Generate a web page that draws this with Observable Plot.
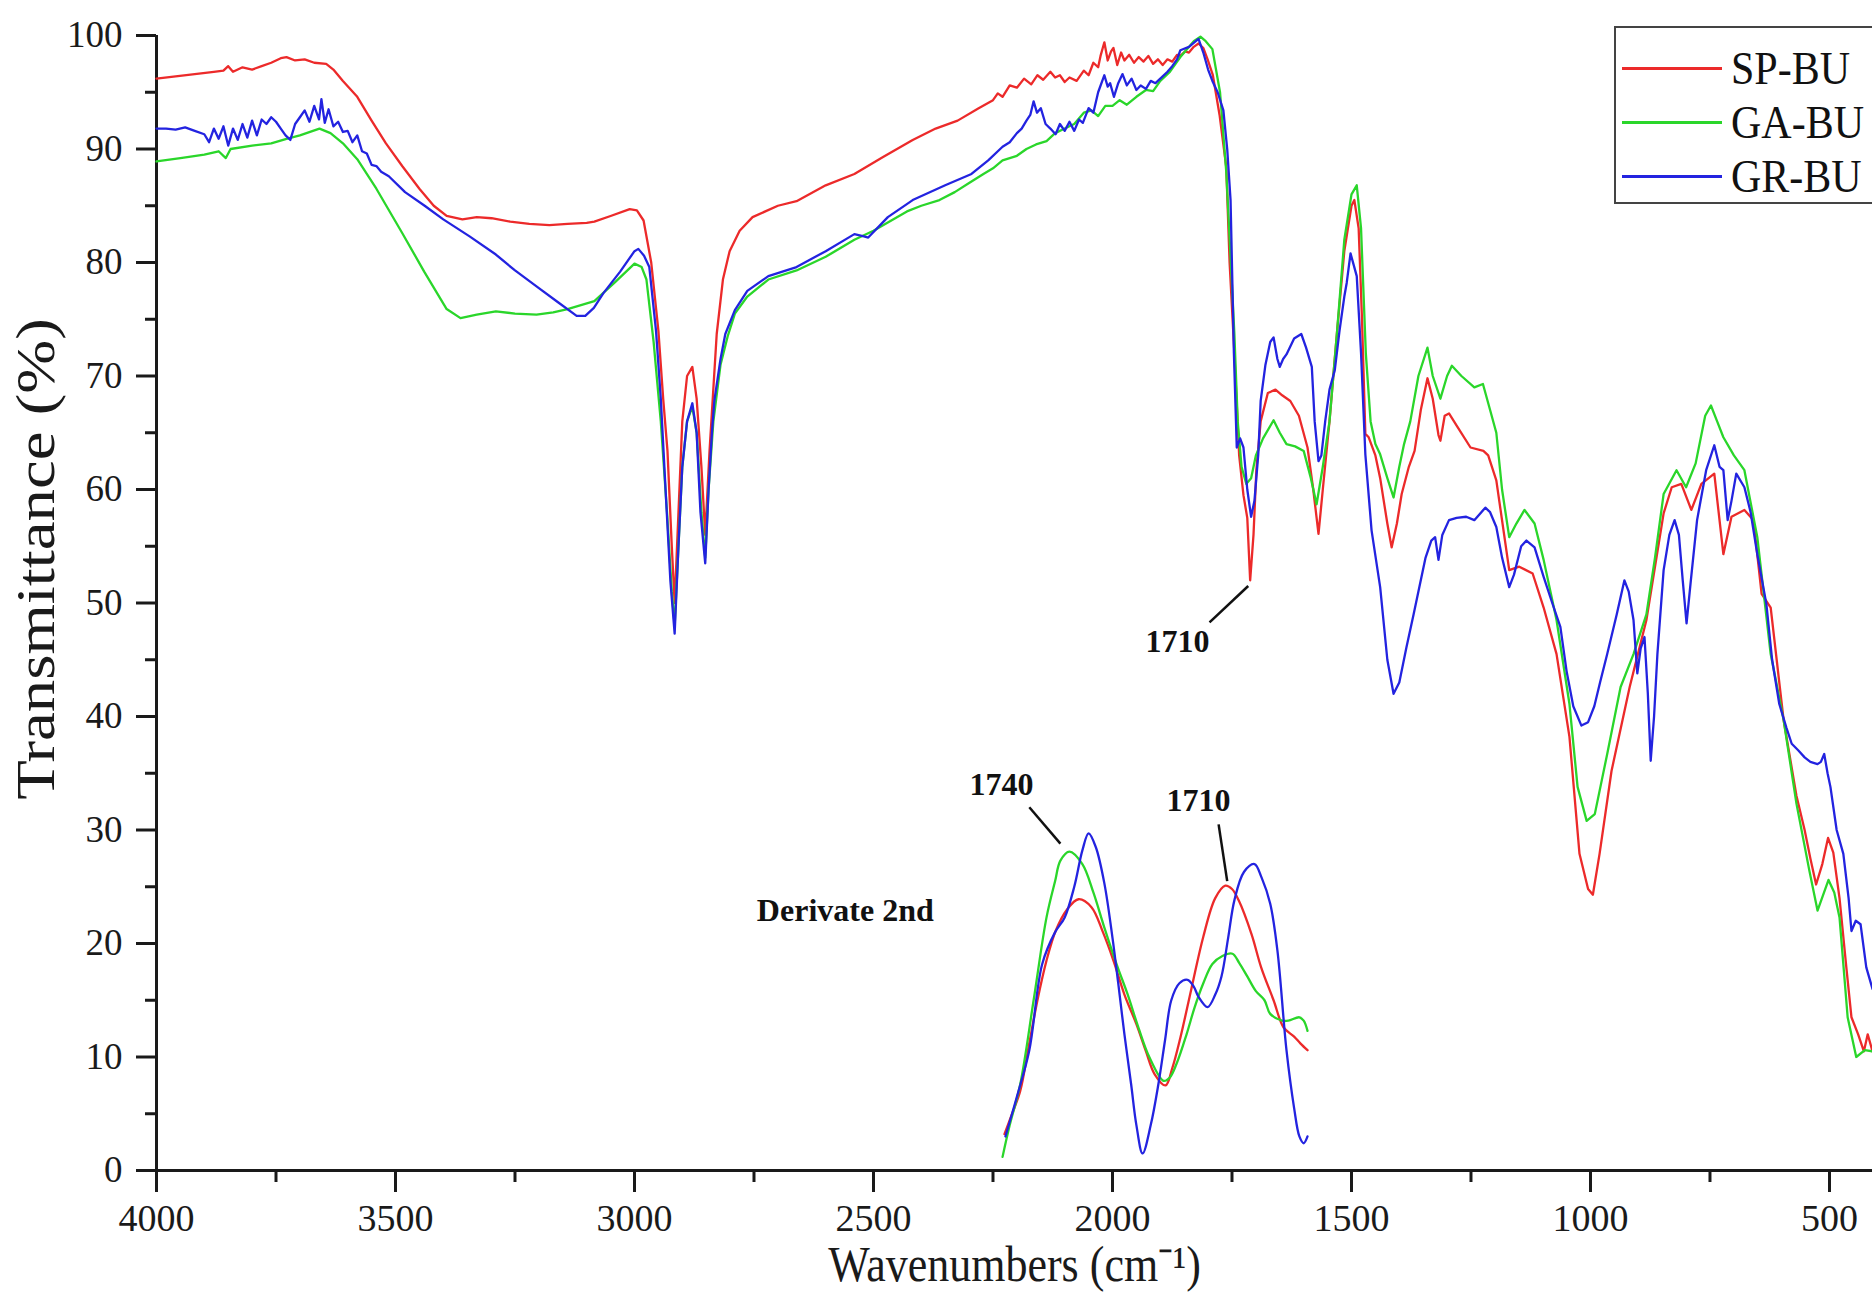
<!DOCTYPE html>
<html><head><meta charset="utf-8">
<script src="https://cdn.jsdelivr.net/npm/d3@7"></script>
<script src="https://cdn.jsdelivr.net/npm/@observablehq/plot@0.6"></script>
<style>
html,body{margin:0;padding:0;background:#fff;}
#wrap{position:relative;width:1872px;height:1294px;overflow:hidden;font-family:"Liberation Serif","Times New Roman",serif;}
#legend{position:absolute;left:1614px;top:26px;width:280px;height:178px;border:2px solid #444;background:#fff;box-sizing:border-box;}
.row{position:absolute;left:0;height:50px;display:flex;align-items:center;}
.sw{display:inline-block;width:100px;height:0;border-top:3px solid;margin-left:6px;}
.lb{font-size:42px;margin-left:9px;color:#111;line-height:50px;display:inline-block;transform:scaleY(1.12);}
</style>
</head><body>
<div id="wrap"></div>
<script>
// ---- data ----
const xTicks = [4000, 3500, 3000, 2500, 2000, 1500, 1000, 500];
const xMinor = [3750, 3250, 2750, 2250, 1750, 1250, 750];
const yTicks = [0, 10, 20, 30, 40, 50, 60, 70, 80, 90, 100];
const yMinor = [5, 15, 25, 35, 45, 55, 65, 75, 85, 95];
const seriesNames = ["SP-BU", "GA-BU", "GR-BU"];
const seriesColors = ["#ec2a2a", "#2ad62a", "#2323e0"];

const spBU = [[4000,96.2],[3960,96.4],[3920,96.6],[3880,96.8],[3860,96.9],[3850,97.3],[3840,96.8],[3820,97.2],[3800,97.0],[3780,97.3],[3760,97.6],[3740,98.0],[3728,98.1],[3710,97.8],[3690,97.9],[3670,97.6],[3645,97.5],[3630,97.0],[3610,96.0],[3580,94.6],[3550,92.5],[3520,90.5],[3486,88.5],[3450,86.5],[3420,85.0],[3393,84.1],[3360,83.8],[3330,84.0],[3299,83.9],[3260,83.6],[3220,83.4],[3178,83.3],[3140,83.4],[3100,83.5],[3084,83.6],[3050,84.1],[3010,84.7],[2995,84.6],[2981,83.7],[2965,80],[2950,74],[2940,68],[2931,63.4],[2922,55],[2916,50],[2908,58],[2900,66],[2890,70],[2879,70.8],[2870,68],[2860,62],[2852,56],[2843,63.4],[2828,73.7],[2815,78.5],[2801,81],[2780,82.8],[2753,84],[2700,85],[2661,85.4],[2600,86.8],[2540,87.8],[2480,89.3],[2418,90.8],[2370,91.8],[2324,92.5],[2280,93.6],[2250,94.3],[2240,94.9],[2230,94.6],[2215,95.6],[2200,95.4],[2185,96.2],[2170,95.7],[2157,96.5],[2145,96.1],[2130,96.8],[2120,96.3],[2110,96.5],[2100,95.9],[2090,96.3],[2075,96.0],[2060,96.9],[2050,96.5],[2040,97.6],[2030,97.2],[2025,98.2],[2017,99.4],[2010,97.8],[2003,98.6],[1998,98.9],[1990,97.4],[1982,98.5],[1975,97.8],[1965,98.3],[1955,97.6],[1945,98.1],[1935,97.7],[1925,98.2],[1915,97.5],[1905,97.9],[1895,97.4],[1885,97.9],[1875,97.7],[1865,98.3],[1858,98.2],[1848,98.6],[1840,98.5],[1830,99.0],[1820,99.3],[1810,98.9],[1801,97.9],[1790,96.5],[1776,93],[1762,88.4],[1755,80],[1745,72],[1735,63],[1726,59.5],[1718,57.5],[1712,52],[1705,56],[1699,61.7],[1690,66],[1675,68.5],[1659,68.8],[1645,68.3],[1628,67.8],[1610,66.5],[1592,63.7],[1580,60],[1569,56.1],[1560,60],[1546,66],[1530,74],[1515,81],[1500,85],[1494,85.5],[1485,83],[1478,75],[1471,64.9],[1464,64.6],[1450,63],[1440,61],[1425,57],[1416,54.9],[1405,57],[1395,59.6],[1380,62],[1368,63.4],[1355,67],[1341,69.8],[1330,68],[1318,64.8],[1314,64.3],[1305,66.5],[1296,66.7],[1278,65.5],[1251,63.7],[1224,63.4],[1214,63],[1197,60.8],[1170,52.9],[1149,53.2],[1121,52.6],[1098,49.6],[1071,45.5],[1044,38.2],[1023,27.9],[1005,24.8],[995,24.3],[981,27.9],[956,35.2],[918,42.6],[883,48.5],[847,57.9],[830,60.2],[810,60.5],[789,58.2],[768,60.5],[741,61.4],[722,54.3],[705,57.6],[678,58.2],[659,57.3],[642,50.8],[623,49.6],[596,39.7],[569,33],[552,30],[540,27.5],[528,25.2],[515,27],[503,29.3],[492,28],[479,24],[465,18],[454,13.5],[440,12],[428,10.5],[420,12],[410,10.5]];

const gaBU = [[4000,88.9],[3950,89.2],[3900,89.5],[3870,89.8],[3855,89.2],[3845,90],[3800,90.3],[3760,90.5],[3728,90.9],[3700,91.2],[3659,91.8],[3636,91.4],[3610,90.5],[3580,89.1],[3540,86.5],[3486,82.6],[3440,79.2],[3393,75.9],[3364,75.1],[3330,75.4],[3290,75.7],[3250,75.5],[3205,75.4],[3170,75.6],[3140,75.9],[3084,76.6],[3040,78.3],[3000,79.9],[2985,79.6],[2975,78.5],[2960,73],[2945,66],[2932,58],[2922,51],[2916,48],[2908,55],[2900,62],[2890,66],[2879,67.3],[2870,65],[2860,58],[2852,54],[2845,60],[2835,66],[2820,71],[2805,73.5],[2790,75.5],[2764,77],[2720,78.5],[2661,79.3],[2600,80.5],[2540,82],[2500,82.8],[2430,84.5],[2400,85],[2362,85.5],[2330,86.2],[2300,87],[2270,87.8],[2250,88.3],[2230,89],[2200,89.4],[2180,90],[2160,90.4],[2138,90.7],[2120,91.4],[2100,91.8],[2080,92.2],[2060,93.2],[2044,93.4],[2030,92.9],[2015,93.8],[2000,93.8],[1985,94.3],[1970,93.9],[1950,94.6],[1930,95.2],[1915,95.1],[1900,96],[1880,96.8],[1858,98.1],[1830,99.5],[1816,99.9],[1805,99.5],[1791,98.8],[1775,95],[1762,88],[1750,78],[1745,73.7],[1738,66],[1730,62],[1720,60.5],[1710,61],[1700,63],[1685,64.5],[1663,66.1],[1650,65],[1636,64],[1618,63.8],[1600,63.4],[1585,61],[1573,58.7],[1560,62],[1546,66],[1530,74],[1515,82],[1500,86],[1489,86.8],[1480,83],[1470,72],[1460,66],[1450,64],[1440,63.1],[1425,61],[1412,59.3],[1400,62],[1390,64],[1377,66],[1360,70],[1341,72.5],[1330,70],[1314,68],[1300,70],[1290,70.9],[1270,70],[1243,69],[1225,69.3],[1210,67],[1197,65],[1185,60],[1170,55.8],[1155,57],[1138,58.2],[1117,57],[1098,53.8],[1071,48.5],[1044,41.1],[1027,33.8],[1008,30.8],[991,31.4],[965,36.7],[937,42.6],[910,45.5],[883,49],[865,54],[847,59.6],[820,61.7],[800,60.2],[780,62.3],[760,66.5],[748,67.4],[735,66],[722,64.6],[700,63],[678,61.7],[651,55.8],[623,45.5],[596,39.7],[569,32.3],[542,26.4],[525,22.9],[502,25.6],[490,24.5],[479,22.3],[462,13.5],[444,10],[426,10.6],[410,10.5]];

const grBU = [[4000,91.8],[3980,91.8],[3960,91.7],[3940,91.9],[3920,91.6],[3900,91.3],[3890,90.6],[3880,91.8],[3870,90.9],[3860,92.0],[3850,90.3],[3840,91.8],[3830,90.8],[3820,92.2],[3810,91.0],[3800,92.5],[3790,91.2],[3780,92.6],[3770,92.2],[3760,92.8],[3750,92.4],[3740,91.8],[3730,91.2],[3720,90.8],[3710,92.2],[3700,92.8],[3690,93.4],[3680,92.4],[3670,93.8],[3660,92.6],[3655,94.4],[3648,92.3],[3640,93.5],[3630,92.0],[3620,92.4],[3610,91.5],[3600,91.6],[3590,90.6],[3580,91.2],[3570,89.8],[3560,89.6],[3550,88.6],[3540,88.5],[3530,88.0],[3514,87.6],[3480,86.2],[3439,85.0],[3400,83.8],[3345,82.3],[3290,80.7],[3250,79.3],[3205,77.9],[3160,76.5],[3121,75.3],[3103,75.3],[3085,76.0],[3065,77.3],[3030,79.2],[3000,81.0],[2992,81.2],[2980,80.6],[2969,79.6],[2955,74],[2945,68],[2935,60],[2925,52],[2916,47.3],[2908,55],[2900,62],[2890,66],[2879,67.6],[2870,65],[2862,58],[2852,53.5],[2845,60],[2838,65],[2833,67.8],[2820,71.5],[2810,73.7],[2790,75.8],[2764,77.5],[2720,78.8],[2661,79.6],[2600,81.0],[2540,82.5],[2520,82.3],[2511,82.2],[2470,84.0],[2418,85.5],[2350,86.8],[2295,87.8],[2260,89.0],[2230,90.2],[2215,90.6],[2200,91.4],[2190,91.8],[2180,92.5],[2172,93.0],[2165,94.2],[2158,93.2],[2150,93.6],[2140,92.2],[2130,91.8],[2119,91.3],[2110,92.2],[2100,91.6],[2090,92.4],[2080,91.6],[2070,92.6],[2062,92.3],[2050,93.6],[2040,93.2],[2030,95.0],[2017,96.5],[2010,95.5],[2005,95.8],[1997,94.6],[1988,95.8],[1979,96.6],[1970,95.6],[1960,96.2],[1950,95.2],[1941,95.6],[1930,95.3],[1920,96.0],[1910,95.8],[1895,96.4],[1885,96.8],[1875,97.3],[1865,97.9],[1858,98.7],[1840,99.0],[1820,99.7],[1810,98.5],[1800,97.0],[1791,96.0],[1780,95.0],[1768,93.4],[1760,90.0],[1753,85.5],[1746,72],[1740,63.7],[1733,64.5],[1726,63.7],[1718,60],[1710,57.6],[1703,59],[1695,63.1],[1690,67.8],[1680,71],[1670,73],[1663,73.4],[1655,71.5],[1650,70.8],[1643,71.5],[1636,71.9],[1620,73.3],[1605,73.7],[1595,72.5],[1583,70.8],[1577,66],[1569,62.5],[1563,63],[1555,66],[1546,68.8],[1535,70.5],[1525,74],[1515,77],[1510,78.2],[1502,80.8],[1489,78.8],[1480,72],[1471,63.1],[1458,56.4],[1440,51.4],[1425,45],[1412,42],[1400,43],[1385,46.1],[1370,49],[1358,51.4],[1345,54],[1333,55.5],[1325,55.8],[1318,53.8],[1310,56],[1296,57.3],[1280,57.5],[1260,57.6],[1243,57.3],[1220,58.4],[1210,58],[1197,56.7],[1185,54],[1170,51.4],[1160,52.5],[1145,55],[1134,55.5],[1117,54.9],[1098,52.3],[1080,50],[1063,47.9],[1050,44],[1036,40.9],[1019,39.2],[1005,39.5],[992,40.9],[980,43],[965,45.5],[945,49],[929,52],[920,51],[910,48.5],[902,43.8],[895,46],[887,47],[880,42],[874,36.1],[867,40],[860,45.5],[847,52.9],[835,56],[824,57.3],[815,56],[807,52],[799,48.2],[790,52],[777,57.3],[758,61.7],[741,63.9],[730,62],[722,61.7],[713,57.3],[705,59],[695,61.4],[678,60.2],[665,58],[651,54.3],[632,49.9],[620,45],[605,41.1],[590,39],[579,37.6],[565,37],[552,36.4],[540,36],[525,35.8],[518,36],[511,36.7],[504,35],[498,33.8],[485,30],[471,27.9],[460,24],[454,21.1],[445,22],[435,21.7],[423,17.9],[410,16]];

// second-derivative inset curves (drawn in the same axes)
const spDeriv = [[2226,3.2],[2210,5],[2193,7],[2175,11],[2157,15],[2138,18.5],[2119,21.1],[2095,23],[2071,23.9],[2044,23.2],[2020,21],[1998,18.5],[1975,15.5],[1950,12.9],[1930,10.5],[1912,8.5],[1889,7.5],[1875,9],[1858,11.7],[1835,16],[1810,20.6],[1785,24],[1764,25.1],[1750,24.8],[1736,23.8],[1709,20.8],[1689,17.9],[1663,15],[1642,12.6],[1620,11.8],[1607,11.2],[1592,10.6]];
const gaDeriv = [[2230,1.2],[2215,4],[2193,7.6],[2165,15],[2138,22.3],[2120,25.5],[2109,27.3],[2090,28.1],[2063,27],[2040,24.5],[2017,21.4],[1990,18],[1969,15.6],[1945,12.5],[1923,10],[1893,7.9],[1880,8.2],[1866,9.4],[1845,12],[1828,14.4],[1810,16.5],[1791,18.2],[1770,18.9],[1749,19.1],[1735,18.3],[1718,17.1],[1700,15.8],[1682,15],[1670,13.8],[1645,13.2],[1632,13.2],[1609,13.5],[1600,13.2],[1592,12.3]];
const grDeriv = [[2224,3],[2200,6.5],[2174,10.6],[2147,18.2],[2120,21],[2100,22.3],[2080,25],[2063,28.2],[2050,29.7],[2035,28.5],[2017,25.3],[2000,20.5],[1988,16.5],[1975,12],[1961,7.6],[1950,4],[1937,1.5],[1920,4],[1904,7.6],[1890,11.5],[1877,15],[1860,16.5],[1843,16.8],[1830,16.2],[1820,15.3],[1801,14.4],[1785,15.5],[1772,17.1],[1758,20.5],[1745,23.8],[1725,26.3],[1703,27],[1688,25.8],[1670,23.5],[1655,19.4],[1636,10.6],[1620,5.5],[1609,3],[1600,2.4],[1592,3]];

// annotations [wavenumber, %T, text]
const peakLabels = [[1864, 46.6, "1710"], [2232, 34.0, "1740"], [1820, 32.6, "1710"], [2559, 22.9, "Derivate 2nd"]];
const leaders = [[1797, 48.3, 1716, 51.5], [2174, 32.0, 2109, 28.8], [1778, 30.5, 1760, 25.5]];

// ---- chart ----
const X = d => d[0], Y = d => d[1];
const lineOpts = (c, curve) => ({x: X, y: Y, stroke: c, strokeWidth: 2.3, curve});
const chart = Plot.plot({
  width: 1872, height: 1294,
  marginLeft: 156, marginRight: 0, marginTop: 35, marginBottom: 124,
  x: {type: "linear", domain: [4000, 410], label: null},
  y: {type: "linear", domain: [0, 100], label: null},
  style: {fontFamily: "'Liberation Serif', 'Times New Roman', serif", background: "#fff", color: "#1a1a1a", overflow: "visible"},
  marks: [
    Plot.axisX({ticks: xTicks, tickSize: 22, tickPadding: 12, fontSize: 38, strokeWidth: 3, label: null, tickFormat: d => String(d)}),
    Plot.axisX({ticks: xMinor, tickSize: 12, strokeWidth: 3, label: null, tickFormat: () => ""}),
    Plot.axisY({ticks: yTicks, tickSize: 20, tickPadding: 14, fontSize: 37, strokeWidth: 3, label: null, tickFormat: d => String(d)}),
    Plot.axisY({ticks: yMinor, tickSize: 11, strokeWidth: 3, label: null, tickFormat: () => ""}),
    Plot.ruleY([0], {strokeWidth: 3, stroke: "#1a1a1a"}),
    Plot.ruleX([4000], {strokeWidth: 3, stroke: "#1a1a1a"}),
    Plot.line(spBU, lineOpts(seriesColors[0], "linear")),
    Plot.line(gaBU, lineOpts(seriesColors[1], "linear")),
    Plot.line(grBU, lineOpts(seriesColors[2], "linear")),
    Plot.line(spDeriv, lineOpts(seriesColors[0], "catmull-rom")),
    Plot.line(gaDeriv, lineOpts(seriesColors[1], "catmull-rom")),
    Plot.line(grDeriv, lineOpts(seriesColors[2], "catmull-rom")),
    Plot.link(leaders, {x1: d => d[0], y1: d => d[1], x2: d => d[2], y2: d => d[3], stroke: "#111", strokeWidth: 2.5}),
    Plot.text(peakLabels, {x: d => d[0], y: d => d[1], text: d => d[2], fontWeight: "bold", fontSize: 32, fill: "#111"}),
    Plot.text(["Transmittance (%)"], {text: d => d, frameAnchor: "left", textAnchor: "middle", dx: -120, dy: -44, rotate: -90, fontSize: 54, fill: "#1a1a1a", className: "ytitle"}),
    Plot.text(["Wavenumbers (cm⁻¹)"], {text: d => d, frameAnchor: "bottom", textAnchor: "middle", dy: 110, fontSize: 44, fill: "#1a1a1a", className: "xtitle"})
  ]
});
const wrap = document.getElementById("wrap");
wrap.appendChild(chart);

// the reference's lettering is slightly stretched along its length / height
function stretch(cls, s) {
  chart.querySelectorAll("." + cls + " text").forEach(t => {
    const tr = t.getAttribute("transform") || "";
    t.setAttribute("transform", (tr + " " + s).trim());
  });
}
stretch("ytitle", "scale(1.2,1)");
stretch("xtitle", "scale(1,1.15)");

// legend (inside plot, top-right)
const legend = document.createElement("div");
legend.id = "legend";
seriesNames.forEach((n, i) => {
  const row = document.createElement("div");
  row.className = "row";
  row.style.top = (15 + i * 54) + "px";
  row.innerHTML = `<span class="sw" style="border-color:${seriesColors[i]}"></span><span class="lb">${n}</span>`;
  legend.appendChild(row);
});
wrap.appendChild(legend);
</script>
</body></html>
